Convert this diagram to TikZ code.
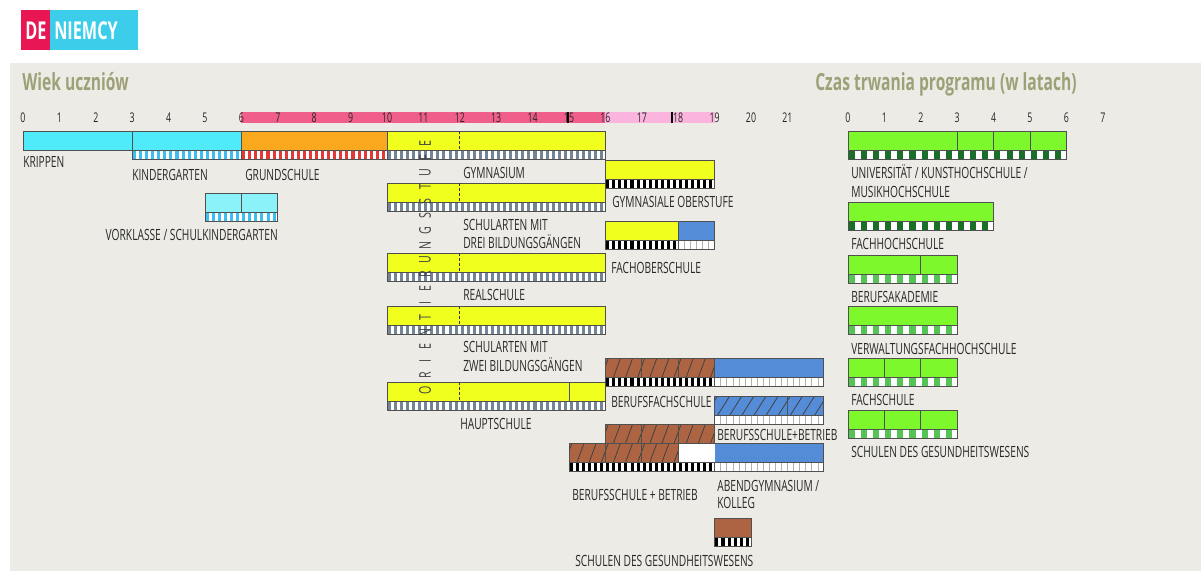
\documentclass[tikz,border=0pt]{standalone}
\usepackage{fontspec}
\setmainfont{Open Sans}[FakeStretch=0.66]
\usepackage{tikz}
\definecolor{bgcol}{RGB}{236,235,229}
\definecolor{titcol}{RGB}{158,160,120}
\definecolor{txtcol}{RGB}{40,40,40}
\definecolor{edgecol}{RGB}{80,80,80}
\definecolor{decol}{RGB}{232,22,82}
\definecolor{headcyan}{RGB}{60,205,235}
\definecolor{pinkA}{RGB}{240,95,140}
\definecolor{pinkB}{RGB}{250,180,222}
\definecolor{cyanA}{RGB}{80,235,250}
\definecolor{cyanB}{RGB}{140,242,250}
\definecolor{cyanS}{RGB}{60,190,240}
\definecolor{orangeA}{RGB}{250,168,30}
\definecolor{redS}{RGB}{230,55,55}
\definecolor{yellowA}{RGB}{240,255,30}
\definecolor{slateS}{RGB}{115,132,150}
\definecolor{blueA}{RGB}{85,140,215}
\definecolor{brownA}{RGB}{172,100,66}
\definecolor{greenA}{RGB}{125,248,45}
\definecolor{greenD}{RGB}{25,110,40}
\definecolor{greenM}{RGB}{85,195,85}
\newcommand{\labfont}{\fontsize{11}{13}\selectfont}
\newcommand{\numfont}{\fontsize{9.5}{11}\selectfont}
\newcommand{\titfont}{\fontsize{16.8}{20}\selectfont\bfseries}
\newcommand{\hdfont}{\fontsize{17.5}{20}\selectfont\bfseries}
\tikzset{
  lab/.style={font=\labfont,text=txtcol,anchor=base west,inner sep=0pt},
  labr/.style={font=\labfont,text=txtcol,anchor=base east,inner sep=0pt},
  num/.style={font=\numfont,text=black!85,inner sep=0pt},
  tit/.style={font=\titfont,text=titcol,anchor=base west,inner sep=0pt},
  blk/.style={draw=edgecol,line width=0.5pt},
  divl/.style={edgecol,line width=0.5pt},
  dashl/.style={black!80,line width=0.5pt,dash pattern=on 2pt off 1.5pt},
  hatchl/.style={black!75,line width=0.55pt},
  orient/.style={font=\fontsize{11.5}{12}\selectfont,text=black!75,rotate=90,inner sep=0pt},
}
% striped strip under a bar: from, to, top, colour, period
\newcommand{\stripbar}[5]{%
  \fill[white] (#1,#3) rectangle (#2,#3+9);
  \pgfmathtruncatemacro{\nst}{round((#2-#1)/#5)-1}
  \foreach \k in {0,...,\nst}{\fill[#4] ({#1+\k*#5+0.8},#3) rectangle ({#1+\k*#5+#5/2+0.8},#3+9);}
  \draw[blk] (#1,#3) rectangle (#2,#3+9);
}
% white strip with grey cells: from, to, top
\newcommand{\greystrip}[3]{%
  \fill[white] (#1,#3) rectangle (#2,#3+9);
  \pgfmathtruncatemacro{\nst}{round((#2-#1)/6.07)-1}
  \foreach \k in {1,...,\nst}{\draw[black!30,line width=0.4pt] ({#1+\k*6.07},#3) -- ++(0,9);}
  \draw[blk] (#1,#3) rectangle (#2,#3+9);
}
% hatched block: from, to, top, fill, slant
\newcommand{\hatchbar}[5]{%
  \fill[#4] (#1,#3) rectangle (#2,#3+19);
  \begin{scope}
    \clip (#1,#3) rectangle (#2,#3+19);
    \pgfmathtruncatemacro{\nst}{round((#2-#1)/12.13)+1}
    \foreach \k in {0,...,\nst}{\draw[hatchl] ({#1+\k*12.13-#5+3},#3+19) -- ({#1+\k*12.13+3},#3);}
  \end{scope}
  \draw[blk] (#1,#3) rectangle (#2,#3+19);
}
\begin{document}
\begin{tikzpicture}[x=0.025cm,y=-0.025cm]
  \useasboundingbox (0,0) rectangle (1201,571);
  \fill[bgcol] (10,63) rectangle (1201,571);
  % header
  \fill[decol] (21,10) rectangle (50,50);
  \fill[headcyan] (50,10) rectangle (138,50);
  \node[font=\hdfont,text=white,anchor=base,inner sep=0pt] (de) at (36,40) {DE};
  \node[font=\hdfont,text=white,anchor=base west,inner sep=0pt] (niemcy) at (54,40) {NIEMCY};
  \node[tit] (wiek) at (22,91) {Wiek uczniów};
  \node[tit] (czas) at (815,91) {Czas trwania programu (w latach)};

  % age scale
  \fill[pinkA] (241.4,112.5) rectangle (605.4,123);
  \fill[pinkB] (605.4,112.5) rectangle (714.6,123);
  \foreach \a in {0,...,21}
    \node[num] (age\a) at (23+36.4*\a,118) {\a};
  \fill[black] (566.8,112.5) rectangle (569.2,123);
  \fill[black] (670.5,112.5) rectangle (673,123);
  \foreach \d in {0,...,7}
    \node[num] (dur\d) at (848+36.4*\d,118) {\d};

  % Krippen, Kindergarten, Grundschule
  \fill[cyanA] (23,131) rectangle (241.4,150);
  \fill[orangeA] (241.4,131) rectangle (387,150);
  \draw[blk] (23,131) rectangle (387,150);
  \draw[divl] (132.2,131) -- (132.2,150) (241.4,131) -- (241.4,150);
  \stripbar{132.2}{241.4}{150}{cyanS}{6.07}
  \stripbar{241.4}{387}{150}{redS}{6.07}
  \node[lab] (krippen) at (23,168) {KRIPPEN};
  \node[lab] (kiga) at (132,180) {KINDERGARTEN};
  \node[lab] (grund) at (245,180) {GRUNDSCHULE};

  % Vorklasse
  \fill[cyanB] (205,193) rectangle (277.8,212);
  \draw[blk] (205,193) rectangle (277.8,212);
  \draw[divl] (241.4,193) -- (241.4,212);
  \stripbar{205}{277.8}{212}{cyanS}{6.07}
  \node[labr] (vorkl) at (278,240) {VORKLASSE / SCHULKINDERGARTEN};

  % secondary level I
  \foreach \t in {131,183,253,306,382}{
    \fill[yellowA] (387,\t) rectangle (605.4,\t+19);
    \draw[blk] (387,\t) rectangle (605.4,\t+19);
    \draw[dashl] (459.8,\t) -- (459.8,\t+19);
    \stripbar{387}{605.4}{\t+19}{slateS}{6.07}
  }
  \draw[divl] (569,382) -- (569,401);
  \node[lab] (gymn) at (463,179) {GYMNASIUM};
  \node[lab] (drei1) at (463,230) {SCHULARTEN MIT};
  \node[lab] (drei2) at (463,248) {DREI BILDUNGSGÄNGEN};
  \node[lab] (real) at (463,300) {REALSCHULE};
  \node[lab] (zwei1) at (463,352) {SCHULARTEN MIT};
  \node[lab] (zwei2) at (463,371) {ZWEI BILDUNGSGÄNGEN};
  \node[lab] (haupt) at (460,429) {HAUPTSCHULE};
  \foreach \ch [count=\i from 0] in {O,R,I,E,N,T,I,E,R,U,N,G,S,S,T,U,F,E}
    \node[orient] (or\i) at (425,390-14.5*\i) {\ch};

  % Gymnasiale Oberstufe
  \fill[yellowA] (605.4,160) rectangle (714.6,179);
  \draw[blk] (605.4,160) rectangle (714.6,179);
  \stripbar{605.4}{714.6}{179}{black}{6.07}
  \node[lab] (oberst) at (612,207) {GYMNASIALE OBERSTUFE};

  % Fachoberschule
  \fill[yellowA] (605.4,221) rectangle (678.2,240);
  \fill[blueA] (678.2,221) rectangle (714.6,240);
  \draw[blk] (605.4,221) rectangle (714.6,240);
  \draw[divl] (678.2,221) -- (678.2,240);
  \stripbar{605.4}{678.2}{240}{black}{6.07}
  \greystrip{678.2}{714.6}{240}
  \node[lab] (fos) at (611,273) {FACHOBERSCHULE};

  % Berufsfachschule
  \hatchbar{605.4}{714.6}{358}{brownA}{7}
  \draw[divl] (641.8,358) -- (641.8,377) (678.2,358) -- (678.2,377);
  \fill[blueA] (714.6,358) rectangle (823.8,377);
  \draw[blk] (714.6,358) rectangle (823.8,377);
  \stripbar{605.4}{714.6}{377}{black}{6.07}
  \greystrip{714.6}{823.8}{377}
  \node[lab] (bfs) at (611,407) {BERUFSFACHSCHULE};

  % Berufsschule + Betrieb (blue)
  \hatchbar{714.6}{823.8}{396}{blueA}{12}
  \draw[divl] (787.4,396) -- (787.4,415);
  \greystrip{714.6}{823.8}{415}
  \node[lab] (bsbb) at (717,440) {BERUFSSCHULE+BETRIEB};

  % Berufsschule + Betrieb (brown), Abendgymnasium
  \hatchbar{605.4}{714.6}{424}{brownA}{7}
  \draw[divl] (641.8,424) -- (641.8,443) (678.2,424) -- (678.2,443);
  \hatchbar{569}{678.2}{443}{brownA}{7}
  \draw[divl] (605.4,443) -- (605.4,462) (641.8,443) -- (641.8,462);
  \fill[white] (678.2,443) rectangle (714.6,462);
  \fill[blueA] (714.6,443) rectangle (823.8,462);
  \draw[blk] (678.2,443) rectangle (823.8,462);
  \stripbar{569}{714.6}{462}{black}{6.07}
  \greystrip{714.6}{823.8}{462}
  \node[lab] (bsb) at (572,500) {BERUFSSCHULE + BETRIEB};
  \node[lab] (abend1) at (717,491) {ABENDGYMNASIUM /};
  \node[lab] (abend2) at (717,508) {KOLLEG};

  % Schulen des Gesundheitswesens (left)
  \fill[brownA] (714.6,518) rectangle (751,537);
  \draw[blk] (714.6,518) rectangle (751,537);
  \stripbar{714.6}{751}{537}{black}{6.07}
  \node[lab] (gesl) at (575,566) {SCHULEN DES GESUNDHEITSWESENS};

  % tertiary programmes
  \fill[greenA] (848,131) rectangle (1066.4,150);
  \draw[blk] (848,131) rectangle (1066.4,150);
  \draw[divl] (957.2,131) -- (957.2,150) (993.6,131) -- (993.6,150) (1030,131) -- (1030,150);
  \stripbar{848}{1066.4}{150}{greenD}{12.13}
  \node[lab] (uni1) at (851,179) {UNIVERSITÄT / KUNSTHOCHSCHULE /};
  \node[lab] (uni2) at (851,197) {MUSIKHOCHSCHULE};

  \fill[greenA] (848,202) rectangle (993.6,221);
  \draw[blk] (848,202) rectangle (993.6,221);
  \stripbar{848}{993.6}{221}{greenD}{12.13}
  \node[lab] (fh) at (851,249) {FACHHOCHSCHULE};

  \fill[greenA] (848,255) rectangle (957.2,274);
  \draw[blk] (848,255) rectangle (957.2,274);
  \draw[divl] (920.8,255) -- (920.8,274);
  \stripbar{848}{957.2}{274}{greenM}{12.13}
  \node[lab] (ba) at (851,302) {BERUFSAKADEMIE};

  \fill[greenA] (848,306) rectangle (957.2,325);
  \draw[blk] (848,306) rectangle (957.2,325);
  \stripbar{848}{957.2}{325}{greenM}{12.13}
  \node[lab] (vfh) at (851,354) {VERWALTUNGSFACHHOCHSCHULE};

  \fill[greenA] (848,358) rectangle (957.2,377);
  \draw[blk] (848,358) rectangle (957.2,377);
  \draw[divl] (884.4,358) -- (884.4,377) (920.8,358) -- (920.8,377);
  \stripbar{848}{957.2}{377}{greenM}{12.13}
  \node[lab] (fs) at (851,405) {FACHSCHULE};

  \fill[greenA] (848,410) rectangle (957.2,429);
  \draw[blk] (848,410) rectangle (957.2,429);
  \draw[divl] (884.4,410) -- (884.4,429) (920.8,410) -- (920.8,429);
  \stripbar{848}{957.2}{429}{greenM}{12.13}
  \node[lab] (gesr) at (851,457) {SCHULEN DES GESUNDHEITSWESENS};
\end{tikzpicture}
\end{document}
